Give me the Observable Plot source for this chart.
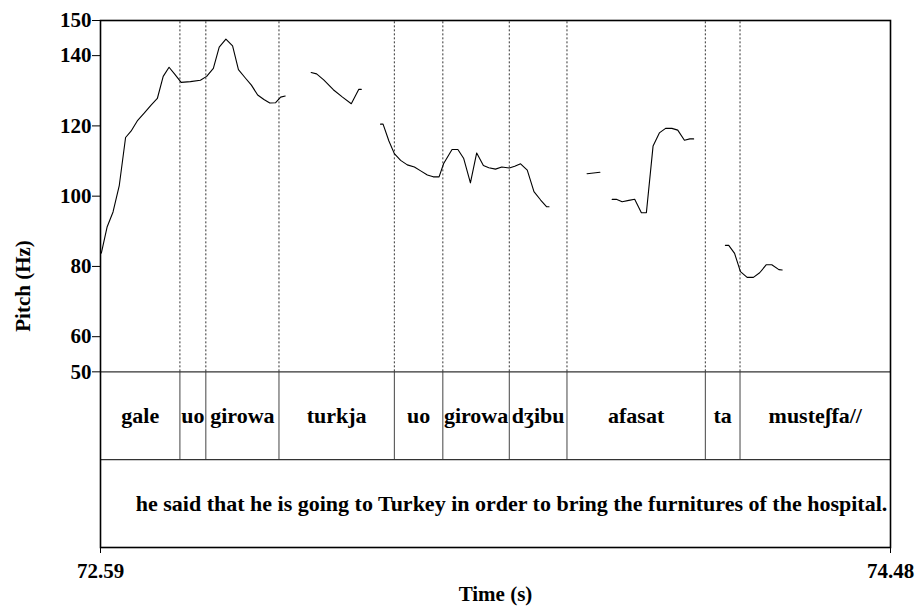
<!DOCTYPE html>
<html>
<head>
<meta charset="utf-8">
<script src="https://cdn.jsdelivr.net/npm/d3@7"></script>
<script src="https://cdn.jsdelivr.net/npm/@observablehq/plot@0.6"></script>
<style>
  html, body { margin: 0; padding: 0; background: white; }
</style>
</head>
<body>
<div id="chart"></div>
<script>
// ---- data ----
const timeDomain = [72.59, 74.48];
const pitchTicks = [50, 60, 80, 100, 120, 140, 150];
const pitchRange = [50, 150];
const tierBands = [25, 50]; // word tier occupies 25..50, sentence tier 0..25 (below pitch panel)

const words = ["gale", "uo", "girowa", "turkja", "uo", "girowa", "dʒibu", "afasat", "ta", "musteʃfa//"];
const wordStarts = [72.590, 72.780, 72.842, 73.017, 73.293, 73.409, 73.568, 73.706, 74.037, 74.120];
const wordEnds   = [72.780, 72.842, 73.017, 73.293, 73.409, 73.568, 73.706, 74.037, 74.120, 74.480];
const sentence = "he said that he is going to Turkey in order to bring the furnitures of the hospital.";

// pitch track (null = unvoiced gap)
const pitchTimes = [
  72.592, 72.606, 72.620, 72.635, 72.650, 72.663, 72.679, 72.695, 72.711, 72.726,
  72.740, 72.754, 72.767, 72.783, 72.805, 72.829, 72.844, 72.860, 72.874, 72.890,
  72.906, 72.920, 72.936, 72.951, 72.966, 72.981, 72.995, 73.009, 73.021, 73.032,
  73.060,
  73.094, 73.107, 73.124, 73.147, 73.169, 73.190, 73.208, 73.214,
  73.240,
  73.260, 73.266, 73.280, 73.293, 73.308, 73.324, 73.341, 73.356, 73.372, 73.386,
  73.400, 73.411, 73.431, 73.445, 73.459, 73.475, 73.490, 73.506, 73.519, 73.535,
  73.550, 73.568, 73.581, 73.595, 73.611, 73.627, 73.643, 73.657, 73.663,
  73.700,
  73.754, 73.785,
  73.800,
  73.814, 73.824, 73.838, 73.854, 73.868, 73.884, 73.896, 73.912, 73.927, 73.942,
  73.957, 73.971, 73.987, 74.000, 74.009,
  74.050,
  74.085, 74.093, 74.107, 74.121, 74.137, 74.152, 74.167, 74.183, 74.196, 74.213,
  74.221
];
const pitchHz = [
  83.8, 91.3, 95.5, 103.1, 116.7, 118.5, 121.6, 123.7, 125.9, 127.8,
  134.1, 136.7, 134.8, 132.4, 132.6, 133.0, 134.1, 136.4, 142.4, 144.7,
  142.8, 136.0, 133.7, 131.6, 128.8, 127.5, 126.5, 126.6, 128.2, 128.5,
  null,
  135.2, 134.8, 133.1, 130.3, 128.2, 126.3, 130.4, 130.4,
  null,
  120.5, 120.5, 115.7, 112.1, 110.2, 108.9, 108.3, 107.2, 106.0, 105.5,
  105.5, 109.3, 113.3, 113.3, 110.7, 103.8, 112.3, 108.7, 108.1, 107.7,
  108.3, 108.0, 108.5, 109.2, 107.4, 101.3, 98.9, 97.0, 97.0,
  null,
  106.4, 106.8,
  null,
  99.1, 99.1, 98.4, 98.8, 99.1, 95.3, 95.3, 114.3, 118.0, 119.3,
  119.3, 118.8, 115.9, 116.3, 116.3,
  null,
  86.0, 86.0, 83.7, 78.5, 76.9, 76.9, 78.2, 80.5, 80.5, 79.1,
  79.0
];

// ---- build tables ----
const pitch = pitchTimes.map((t, i) => ({t, hz: pitchHz[i]}));
const intervals = words.map((w, i) => ({w, t0: wordStarts[i], t1: wordEnds[i], mid: (wordStarts[i] + wordEnds[i]) / 2}));
const boundaries = wordStarts.slice(1);
const wordY = (tierBands[0] + tierBands[1]) / 2;
const sentY = tierBands[0] / 2;

const font = {fontFamily: "Liberation Serif", fontSize: 21, fontWeight: "bold", fill: "black"};

const chart = Plot.plot({
  width: 918,
  height: 607,
  marginLeft: 100,
  marginRight: 28,
  marginTop: 20,
  marginBottom: 60,
  style: {background: "white", color: "black"},
  x: {domain: timeDomain},
  y: {domain: [0, pitchRange[1]]},
  marks: [
    Plot.ruleX(boundaries, {y1: pitchRange[0], y2: pitchRange[1], stroke: "#333", strokeWidth: 1, strokeDasharray: "2,2"}),
    Plot.ruleX(boundaries, {y1: tierBands[0], y2: tierBands[1], stroke: "#444", strokeWidth: 1}),
    Plot.ruleY(tierBands, {stroke: "#333", strokeWidth: 1.2}),
    Plot.line(pitch, {x: "t", y: "hz", stroke: "black", strokeWidth: 1.1}),
    Plot.text(intervals, {x: "mid", y: wordY, text: "w", ...font, fontSize: 22}),
    Plot.text([sentence], {x: (timeDomain[0] + timeDomain[1]) / 2, y: sentY, dx: 16, text: d => d, ...font, fontSize: 22}),
    Plot.frame({stroke: "black", strokeWidth: 1.6}),
    Plot.axisY({ticks: pitchTicks, tickSize: 8, tickPadding: 1, tickFormat: d => String(d), label: null, ...font}),
    Plot.axisX({ticks: timeDomain, tickSize: 6, tickPadding: 10, tickFormat: d => d.toFixed(2), label: null, ...font}),
    Plot.text(["Time (s)"], {frameAnchor: "bottom", lineAnchor: "middle", textAnchor: "middle", dy: 47, text: d => d, ...font}),
    Plot.text(["Pitch (Hz)"], {frameAnchor: "left", lineAnchor: "middle", textAnchor: "middle", dx: -77, dy: 2, rotate: -90, text: d => d, ...font})
  ]
});
document.getElementById("chart").appendChild(chart);
</script>
</body>
</html>
